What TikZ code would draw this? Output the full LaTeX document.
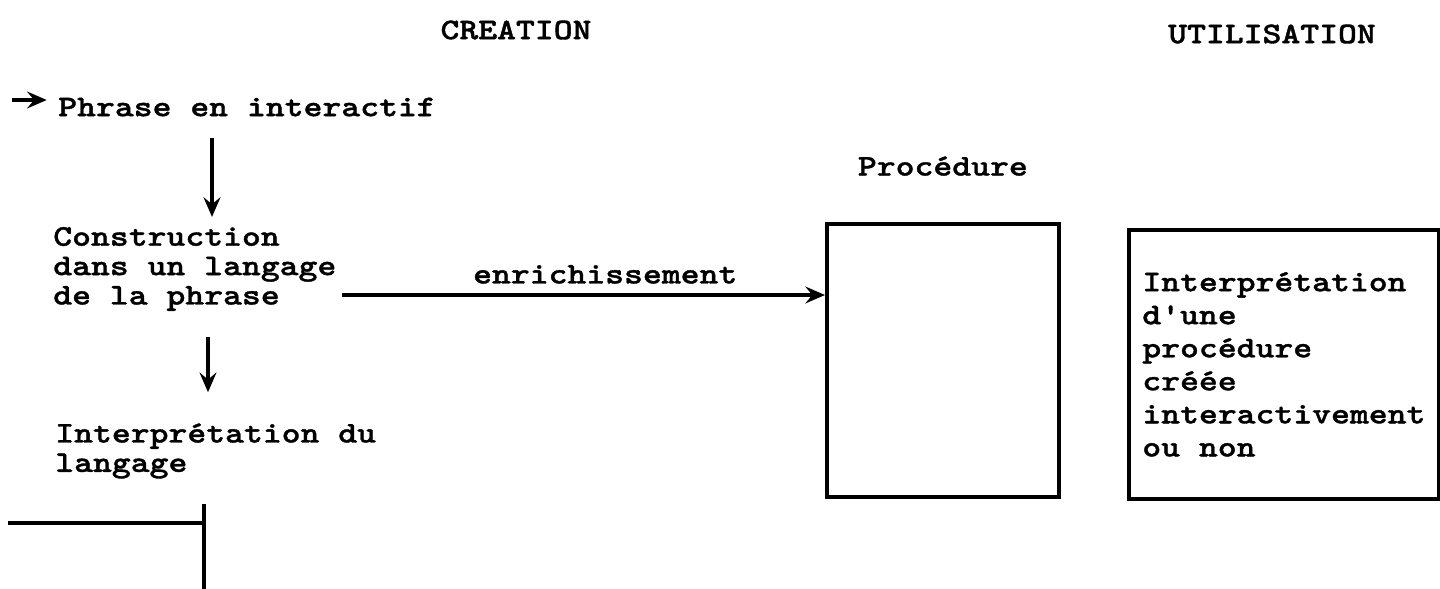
\documentclass[tikz,border=0pt]{standalone}
\usepackage{fontspec}
\usepackage{tikz}
\usetikzlibrary{arrows.meta,positioning,calc}
\newfontfamily\typo[FakeStretch=1.2,FakeBold=1.2]{lmmonolt10-bold.otf}
\tikzset{
  titre/.style={
    font=\typo\fontsize{21.3pt}{20.9pt}\selectfont,inner sep=0pt
  },
  texte/.style={
    font=\typo\fontsize{21.3pt}{20.9pt}\selectfont,
    align=left,inner sep=0pt,anchor=west
  },
  cadre/.style={
    draw,line width=2.6pt,anchor=north west,inner sep=0pt,
    minimum width=5.8cm,minimum height=6.825cm
  },
  fleche/.style={-{Stealth[length=14pt,width=12pt,inset=5pt]},line width=2.4pt},
  trait/.style={line width=2.6pt}
}

\begin{document}
\begin{tikzpicture}[x=0.025cm,y=-0.025cm]
      \useasboundingbox (0,0) rectangle (1440,588);
      \node[titre] (creation) at (516,30) {CREATION};
      \node[titre] (utilisation) at (1272,34) {UTILISATION};
      \node[texte] (phrase) at (58,107) {Phrase en interactif};
      \node[texte] (construction) at (53,269) {Construction\\dans un langage\\de la phrase};
      \node[texte] (interpretation) at (55,451) {Interprétation du\\langage};
      \node[cadre] (procedure) at (825,222) {};
      \node[titre,above=1.15cm of procedure] (nomproc) {Procédure};
      \node[cadre,minimum width=7.75cm,minimum height=6.725cm,
        inner xsep=0.325cm,align=left,
        font=\typo\fontsize{21.3pt}{23.5pt}\selectfont] (usage) at (1127,228) {%
        Interprétation\\d'une\\procédure\\créée\\interactivement\\ou non};
      \coordinate (entree) at (12,100);
      \coordinate (axe1) at (212,0);
      \coordinate (axe2) at (208,0);
      \coordinate (niveau) at (0,295);
      \coordinate (bord) at (8,523);
      \coordinate (coin) at (204,523);
      \coordinate (haut) at (204,504);
      \coordinate (bas) at (204,592);
      \draw[fleche,shorten >=8pt] (entree) -- (entree -| phrase.west);
      \draw[fleche,shorten <=15pt,shorten >=7pt] (phrase.south -| axe1) -- (construction.north -| axe1);
      \draw[fleche,shorten <=18pt,shorten >=22pt] (construction.south -| axe2) -- (interpretation.north -| axe2);
      \draw[fleche,line width=2.2pt,shorten <=4pt] (construction.east |- niveau) -- (procedure.west |- niveau)
        node[titre,above,pos=0.55,inner ysep=7pt] (enrichissement) {enrichissement};
      \draw[trait] (bord) -- (coin);
      \draw[trait] (haut) -- (bas);
    \end{tikzpicture}
\end{document}
